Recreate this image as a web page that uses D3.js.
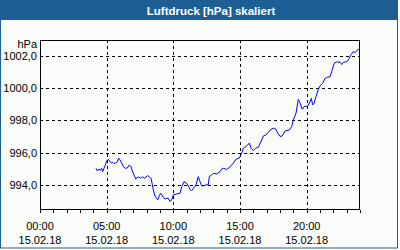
<!DOCTYPE html>
<html>
<head>
<meta charset="utf-8">
<script src="https://cdn.jsdelivr.net/npm/d3@7"></script>
<style>
  html, body { margin: 0; padding: 0; background: #ffffff; }
  svg { display: block; }
  text { font-family: "Liberation Sans", Arial, sans-serif; }
</style>
</head>
<body>
<svg id="chart" width="400" height="250"></svg>
<script>
// readings of 15.02.18, hours since midnight
var hours = [4.20, 4.30, 4.43, 4.52, 4.63, 4.70, 4.80, 4.90, 5.00, 5.12, 5.25, 5.35, 5.45, 5.55, 5.68,
  5.80, 5.90, 6.00, 6.13, 6.25, 6.40, 6.55, 6.70, 6.83, 6.92, 7.05, 7.18, 7.30, 7.43, 7.55, 7.67,
  7.82, 7.95, 8.08, 8.20, 8.33, 8.42, 8.50, 8.60, 8.70, 8.83, 8.95, 9.05, 9.15, 9.25, 9.38, 9.50,
  9.62, 9.75, 9.88, 10.00, 10.25, 10.50, 10.63, 10.80, 11.00, 11.12, 11.25, 11.38, 11.50, 11.70,
  11.87, 12.00, 12.13, 12.25, 12.45, 12.62, 12.70, 12.88, 13.00, 13.25, 13.50, 13.63, 13.75, 14.00,
  14.25, 14.50, 14.70, 14.95, 15.13, 15.25, 15.50, 15.70, 15.83, 16.00, 16.18, 16.37, 16.58, 16.75,
  16.93, 17.12, 17.29, 17.50, 17.68, 17.87, 18.00, 18.17, 18.38, 18.70, 18.88, 19.00, 19.20, 19.37,
  19.50, 19.67, 19.82, 20.08, 20.25, 20.35, 20.45, 20.55, 20.70, 20.87, 21.00, 21.19, 21.38, 21.56,
  21.75, 21.88, 22.00, 22.09, 22.25, 22.50, 22.63, 22.75, 23.00, 23.18, 23.33, 23.48, 23.66, 23.83, 23.93];

var pressure = [995.02, 994.86, 994.98, 994.89, 995.02, 994.81, 995.02, 995.23, 995.48, 995.58, 995.43,
  995.34, 995.40, 995.31, 995.35, 995.43, 995.65, 995.54, 995.34, 995.12, 995.02, 995.04, 995.23, 995.12,
  994.86, 994.61, 994.36, 994.44, 994.48, 994.40, 994.50, 994.40, 994.48, 994.57, 994.48, 994.40, 994.03,
  993.68, 993.37, 993.20, 993.06, 993.32, 993.47, 993.37, 993.20, 993.12, 993.15, 993.16, 992.95, 993.06,
  993.37, 993.43, 993.47, 993.88, 994.19, 994.09, 993.93, 993.72, 993.63, 993.78, 993.99, 994.50, 994.19,
  993.93, 993.93, 993.99, 993.99, 994.50, 994.61, 994.71, 994.67, 994.81, 994.98, 995.02, 994.95, 995.11,
  995.34, 995.58, 995.66, 995.96, 996.27, 996.41, 996.58, 996.27, 996.12, 996.27, 996.33, 996.68, 997.03,
  997.09, 997.24, 997.43, 997.51, 997.45, 997.16, 997.00, 997.03, 997.34, 997.40, 997.62, 998.02, 998.44,
  999.30, 999.08, 998.69, 998.86, 998.88, 999.16, 999.36, 998.96, 999.06, 999.47, 999.92, 1000.14, 1000.29,
  1000.60, 1000.68, 1000.70, 1001.04, 1001.38, 1001.57, 1001.63, 1001.61, 1001.47, 1001.61, 1001.64,
  1001.83, 1002.08, 1002.25, 1002.23, 1002.39, 1002.40];

var yTicks = [994, 996, 998, 1000, 1002];
var dayLabel = "15.02.18";
var titleText = "Luftdruck [hPa] skaliert";
var unitText = "hPa";

var svg = d3.select("#chart");
var plot = { left: 40, top: 40, right: 360, bottom: 210 };

var day = new Date(2018, 1, 15);
var x = d3.scaleTime()
  .domain([day, d3.timeDay.offset(day, 1)])
  .range([plot.left, plot.right]);
var y = d3.scaleLinear()
  .domain([992.43, 1002.99])
  .range([plot.bottom, plot.top]);

var de = d3.formatLocale({ decimal: ",", thousands: ".", grouping: [3], currency: ["", " €"] });
var fmt = de.format(".1f");

var data = hours.map(function(h, i) {
  return { t: new Date(day.getTime() + h * 3600000), v: pressure[i] };
});

// background + frame
svg.append("rect").attr("x", 0).attr("y", 0).attr("width", 398).attr("height", 248)
  .attr("fill", "#fafcfa");
svg.append("rect").attr("x", 0).attr("y", 0).attr("width", 398).attr("height", 20)
  .attr("fill", "#1d5f94");
svg.append("rect").attr("x", 0.5).attr("y", 0.5).attr("width", 397).attr("height", 247.5)
  .attr("fill", "none").attr("stroke", "#1d5f94");

svg.append("text")
  .attr("x", 211).attr("y", 14.5)
  .attr("text-anchor", "middle")
  .attr("fill", "#ffffff")
  .style("font-weight", "bold").style("font-size", "11.5px")
  .text(titleText);

// grid
var majorHours = d3.timeHour.every(5).range(day, d3.timeDay.offset(day, 1));
var grid = svg.append("g").attr("stroke", "#000").attr("stroke-dasharray", "3,3").attr("shape-rendering", "crispEdges");
grid.selectAll("line.v").data(majorHours.slice(1)).join("line")
  .attr("x1", function(d) { return Math.round(x(d)) + 0.5; })
  .attr("x2", function(d) { return Math.round(x(d)) + 0.5; })
  .attr("y1", plot.top).attr("y2", plot.bottom);
grid.selectAll("line.h").data(yTicks).join("line")
  .attr("y1", function(d) { return Math.round(y(d)) + 0.5; })
  .attr("y2", function(d) { return Math.round(y(d)) + 0.5; })
  .attr("x1", plot.left).attr("x2", plot.right);

// bottom axis: hourly ticks, labels every 5h
var xAxis = d3.axisBottom(x)
  .ticks(d3.timeHour.every(1))
  .tickSize(3)
  .tickFormat("");
var gx = svg.append("g").attr("transform", "translate(0," + plot.bottom + ")").call(xAxis);
gx.select(".domain").remove();
gx.selectAll("line").attr("stroke", "#000").attr("shape-rendering", "crispEdges");

var lbl = svg.append("g").style("font-size", "11px").attr("fill", "#000");
majorHours.forEach(function(d) {
  lbl.append("text").attr("x", x(d)).attr("y", 229.5).attr("text-anchor", "middle")
    .text(d3.timeFormat("%H:%M")(d));
  lbl.append("text").attr("x", x(d)).attr("y", 243.5).attr("text-anchor", "middle")
    .text(dayLabel);
});

// left labels
var yAxis = d3.axisLeft(y).tickValues(yTicks).tickSize(0).tickPadding(3).tickFormat(fmt);
var gy = svg.append("g").attr("transform", "translate(" + plot.left + ",0)").call(yAxis);
gy.select(".domain").remove();
gy.selectAll("text").style("font-size", "11px").attr("fill", "#000")
  .attr("font-family", "Liberation Sans, Arial, sans-serif");
svg.append("text").attr("x", 37).attr("y", 48).attr("text-anchor", "end")
  .style("font-size", "11px").text(unitText);

// plot border
svg.append("rect").attr("x", plot.left + 0.5).attr("y", plot.top + 0.5)
  .attr("width", plot.right - plot.left - 1).attr("height", plot.bottom - plot.top - 1)
  .attr("fill", "none").attr("stroke", "#000");

// series
var line = d3.line().x(function(d) { return x(d.t); }).y(function(d) { return y(d.v); });
svg.append("path").datum(data)
  .attr("fill", "none").attr("stroke", "#0000ff").attr("stroke-width", 1)
  .attr("d", line);
</script>
</body>
</html>
